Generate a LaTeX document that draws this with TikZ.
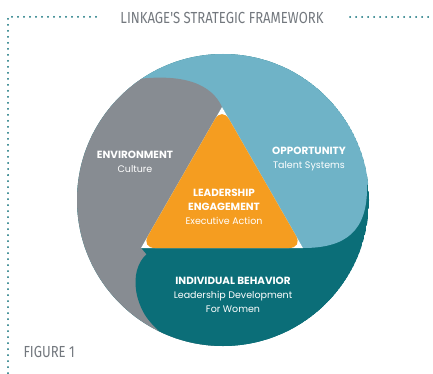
\documentclass[tikz,border=0pt]{standalone}
\usepackage{fontspec}
\setmainfont{Poppins}
\newfontfamily\titlefont[FakeStretch=0.82]{Fira Sans}
\definecolor{tealdark}{HTML}{0B6E78}
\definecolor{bluelight}{HTML}{6FB3C7}
\definecolor{graylobe}{HTML}{878C92}
\definecolor{orangecore}{HTML}{F59D20}
\definecolor{titlegray}{HTML}{73787E}
\newcommand{\lobehead}[1]{{\fontsize{10.4}{14}\selectfont\bfseries #1}}
\begin{document}
\begin{tikzpicture}[x=1pt,y=-1pt,
	dots/.style={tealdark, line width=2pt, line cap=round, dash pattern=on 0pt off 6pt},
	lobetext/.style={white, align=center, font=\fontsize{9.5}{14}\selectfont},
	headtext/.style={titlegray, font=\titlefont\fontsize{16}{16}\selectfont}]
	\useasboundingbox (0,0) rectangle (433,374);
	% dotted frame
	\draw [dots] (96,17) -- (8,17) -- (8,374);
	\draw [dots] (350,17) -- (433,17);
	\node (title) [headtext] at (222,18) {LINKAGE'S STRATEGIC FRAMEWORK};
	\node (fig) [headtext, anchor=west] at (20,352) {FIGURE 1};
	% lobes
	\begin{scope}
		\clip (223,200) circle (146);
		\fill [tealdark] (223,200) circle (146);
		\fill [bluelight] (222,107) -- (303,248) .. controls (345,248) and (368,232) .. (367,185) -- (420,150) -- (420,20) -- (40,20) -- (40,107) -- cycle;
		\fill [graylobe] (222,107) .. controls (212,85) and (185,72) .. (130,80) -- (40,60) -- (40,390) -- (260,390) -- (141,248) -- cycle;
		\fill [tealdark] (400,248) -- (165,248) .. controls (135,248) and (127,285) .. (145,315) .. controls (155,330) and (170,342) .. (195,352) -- (400,390) -- cycle;
	\end{scope}
	\fill [white] (222,107) -- (303,248) -- (141,248) -- cycle;
	\fill [orangecore, rounded corners=14pt] (222,107) -- (303,248) -- (141,248) -- cycle;
	% labels
	\node (env) [lobetext] at (135,162) {\lobehead{ENVIRONMENT}\\Culture};
	\node (opp) [lobetext] at (309,159) {\lobehead{OPPORTUNITY}\\Talent Systems};
	\node (lead) [lobetext] at (224,207) {\lobehead{LEADERSHIP}\\\lobehead{ENGAGEMENT}\\Executive Action};
	\node (indiv) [lobetext] at (233,295) {\lobehead{INDIVIDUAL BEHAVIOR}\\Leadership Development\\For Women};
\end{tikzpicture}
\end{document}
